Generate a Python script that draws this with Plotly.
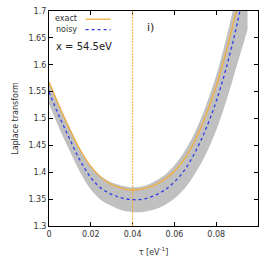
import plotly.graph_objects as go

# ---- data ----
tau = [0.000, 0.005, 0.010, 0.015, 0.020, 0.025, 0.030, 0.035, 0.040, 0.045,
       0.050, 0.055, 0.060, 0.065, 0.070, 0.075, 0.080, 0.085, 0.090, 0.095]
exact = [1.568, 1.522, 1.479, 1.441, 1.411, 1.390, 1.377, 1.370, 1.367, 1.369,
         1.375, 1.386, 1.402, 1.426, 1.460, 1.505, 1.560, 1.628, 1.706, 1.790]
noisy = [1.549, 1.503, 1.461, 1.421, 1.390, 1.370, 1.359, 1.352, 1.349, 1.350,
         1.356, 1.366, 1.382, 1.405, 1.438, 1.480, 1.532, 1.597, 1.676, 1.770]
band_upper = [1.571, 1.525, 1.483, 1.443, 1.412, 1.392, 1.381, 1.375, 1.372, 1.374,
              1.382, 1.394, 1.413, 1.440, 1.476, 1.523, 1.580, 1.652, 1.738, 1.840]
band_lower = [1.527, 1.481, 1.439, 1.399, 1.368, 1.348, 1.337, 1.329, 1.326, 1.326,
              1.330, 1.338, 1.351, 1.370, 1.398, 1.433, 1.478, 1.535, 1.600, 1.665]
tau_mark = 0.04
x_ticks = [0, 0.02, 0.04, 0.06, 0.08]
x_tick_labels = ["0", "0.02", "0.04", "0.06", "0.08"]
y_ticks = [1.3, 1.35, 1.4, 1.45, 1.5, 1.55, 1.6, 1.65, 1.7]
y_tick_labels = ["1.3", "1.35", "1.4", "1.45", "1.5", "1.55", "1.6", "1.65", "1.7"]

ORANGE = "#F2AE3C"
BLUE = "#2F3BEB"
GRAY = "#C0C0C0"
FONT = "DejaVu Sans"

fig = go.Figure()
fig.add_trace(go.Scatter(x=tau, y=band_upper, mode="lines", line=dict(width=0, shape="spline"),
                         hoverinfo="skip", showlegend=False))
fig.add_trace(go.Scatter(x=tau, y=band_lower, mode="lines", line=dict(width=0, shape="spline"),
                         fill="tonexty", fillcolor=GRAY, hoverinfo="skip", showlegend=False))
fig.add_trace(go.Scatter(x=tau, y=exact, mode="lines", name="exact",
                         line=dict(color=ORANGE, width=1.3, shape="spline"), showlegend=False))
fig.add_trace(go.Scatter(x=tau, y=noisy, mode="lines", name="noisy",
                         line=dict(color=BLUE, width=1.3, dash="3px,3px", shape="spline"),
                         showlegend=False))
fig.add_vline(x=tau_mark, line=dict(color=ORANGE, width=1, dash="2px,1px"))

# legend drawn gnuplot-style (text, then sample)
fig.add_annotation(x=0.145, y=0.966, xref="paper", yref="paper", text="exact", showarrow=False,
                   xanchor="right", yanchor="middle", font=dict(family=FONT, size=8, color="#333"))
fig.add_annotation(x=0.145, y=0.915, xref="paper", yref="paper", text="noisy", showarrow=False,
                   xanchor="right", yanchor="middle", font=dict(family=FONT, size=8, color="#333"))
fig.add_shape(type="line", xref="paper", yref="paper", x0=0.175, x1=0.295, y0=0.962, y1=0.962,
              line=dict(color=ORANGE, width=1.3))
fig.add_shape(type="line", xref="paper", yref="paper", x0=0.175, x1=0.295, y0=0.913, y1=0.913,
              line=dict(color=BLUE, width=1.3, dash="3px,3px"))
fig.add_annotation(x=0.025, y=0.833, xref="paper", yref="paper", text="x = 54.5eV", showarrow=False,
                   xanchor="left", yanchor="middle", font=dict(family=FONT, size=10, color="#222"))
fig.add_annotation(x=0.46, y=0.924, xref="paper", yref="paper", text="i)", showarrow=False,
                   xanchor="left", yanchor="middle", font=dict(family=FONT, size=11, color="#222"))

axis_common = dict(showline=True, linecolor="black", linewidth=1.2, mirror="ticks",
                   ticks="inside", ticklen=4, tickcolor="black", showgrid=False, zeroline=False,
                   automargin=False, tickfont=dict(family=FONT, size=8, color="#333"))
fig.update_xaxes(range=[0, 0.1], tickvals=x_ticks, ticktext=x_tick_labels,
                 title=dict(text="τ [eV<sup>-1</sup>]", font=dict(family=FONT, size=8, color="#333"),
                            standoff=11), **axis_common)
fig.update_yaxes(range=[1.3, 1.7], tickvals=y_ticks, ticktext=y_tick_labels,
                 title=dict(text="Laplace transform", font=dict(family=FONT, size=8, color="#333"),
                            standoff=8), **axis_common)
fig.update_layout(width=274, height=267, margin=dict(l=49, r=16, t=11, b=41),
                  paper_bgcolor="white", plot_bgcolor="white", showlegend=False)
fig.write_html("out.html", config={"displayModeBar": False},
               post_script="document.body.style.margin='0px';")
